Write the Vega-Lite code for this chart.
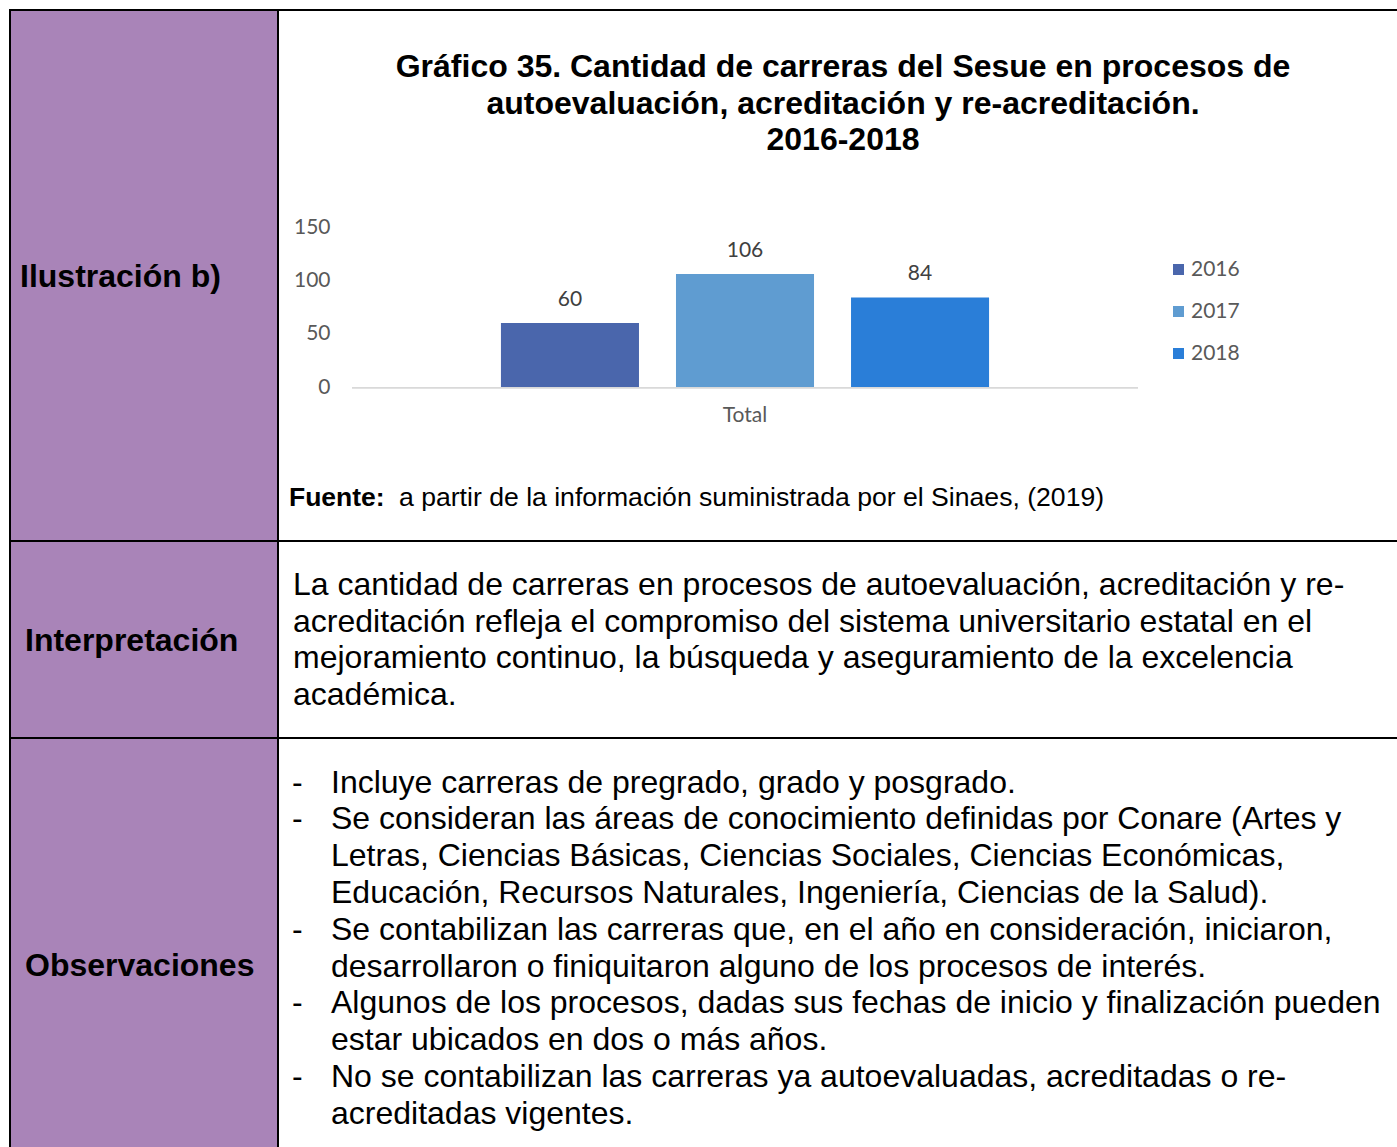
{
  "$schema": "https://vega.github.io/schema/vega-lite/v6.json",
  "padding": {"left": 9, "top": 9, "right": 0, "bottom": 0},
  "background": "white",
  "bounds": "flush",
  "align": "each",
  "spacing": 0,
  "columns": 2,
  "config": {
    "view": {"stroke": "black", "strokeWidth": 2},
    "concat": {"spacing": 0},
    "text": {"font": "Liberation Sans", "color": "black"}
  },
  "concat": [
    {
      "width": 268,
      "height": 531,
      "view": {"fill": "#A984B8", "stroke": "black", "strokeWidth": 2},
      "data": {"values": [{"label": "Ilustración b)"}]},
      "mark": {"type": "text", "align": "left", "baseline": "middle", "dx": -124, "dy": 1, "fontSize": 32, "fontWeight": "bold", "font": "Liberation Sans"},
      "encoding": {"text": {"field": "label", "type": "nominal"}}
    },
    {
      "width": 1130,
      "height": 531,
      "view": {"fill": "white", "stroke": "black", "strokeWidth": 2},
      "layer": [
        {
          "data": {"values": [{"grupo": "Total"}]},
          "mark": {"type": "bar", "color": "#D9D9D9"},
          "encoding": {
            "x": {
              "field": "grupo", "type": "nominal",
              "scale": {"paddingInner": 0, "paddingOuter": 0.2188, "align": 0.2151},
              "axis": {"title": null, "orient": "bottom", "offset": -154, "domain": false, "ticks": false, "labelPadding": 17, "labelFont": "Lato", "labelFontSize": 21, "labelColor": "#595959", "labelAngle": 0}
            },
            "y": {"datum": 0, "type": "quantitative"},
            "y2": {"datum": -1.7}
          }
        },
        {
          "data": {"values": [
            {"grupo": "Total", "anio": "2016", "carreras": 60},
            {"grupo": "Total", "anio": "2017", "carreras": 106},
            {"grupo": "Total", "anio": "2018", "carreras": 84}
          ]},
          "layer": [
            {
              "mark": {"type": "bar"},
              "encoding": {
                "x": {"field": "grupo", "type": "nominal"},
                "xOffset": {"field": "anio", "type": "nominal", "scale": {"paddingInner": 0.2114, "paddingOuter": 0.851}},
                "y": {
                  "field": "carreras", "type": "quantitative",
                  "scale": {"domain": [-144.375, 353.44], "nice": false, "zero": false},
                  "axis": {"title": null, "values": [0, 50, 100, 150], "offset": -60, "domain": false, "ticks": false, "grid": false, "labelPadding": 8, "labelFont": "Lato", "labelFontSize": 21, "labelColor": "#595959"}
                },
                "color": {
                  "field": "anio", "type": "nominal",
                  "scale": {"domain": ["2016", "2017", "2018"], "range": ["#4A66AC", "#5F9CD1", "#2A7ED8"]},
                  "legend": {"title": null, "orient": "none", "legendX": 1158, "legendY": 249, "symbolType": "square", "symbolSize": 121, "symbolStrokeWidth": 0, "labelFont": "Lato", "labelFontSize": 21, "labelColor": "#595959", "labelOffset": 2, "rowPadding": 20, "padding": 0}
                }
              }
            },
            {
              "mark": {"type": "text", "baseline": "alphabetic", "dy": -17, "font": "Lato", "fontSize": 21, "color": "#404040"},
              "encoding": {
                "x": {"field": "grupo", "type": "nominal"},
                "xOffset": {"field": "anio", "type": "nominal"},
                "y": {"field": "carreras", "type": "quantitative"},
                "text": {"field": "carreras", "type": "quantitative"}
              }
            }
          ]
        },
        {
          "data": {"values": [{"titulo": ["Gráfico 35. Cantidad de carreras del Sesue en procesos de", "autoevaluación, acreditación y re-acreditación.", "2016-2018"]}]},
          "mark": {"type": "text", "align": "center", "baseline": "middle", "dy": -208.5, "fontSize": 32, "fontWeight": "bold", "lineHeight": 36.5, "font": "Liberation Sans"},
          "encoding": {"text": {"field": "titulo", "type": "nominal"}}
        },
        {
          "data": {"values": [{"fuente": "Fuente:"}]},
          "mark": {"type": "text", "align": "left", "baseline": "middle", "dx": -554, "dy": 222.5, "fontSize": 26.5, "fontWeight": "bold", "font": "Liberation Sans"},
          "encoding": {"text": {"field": "fuente", "type": "nominal"}}
        },
        {
          "data": {"values": [{"nota": "a partir de la información suministrada por el Sinaes, (2019)"}]},
          "mark": {"type": "text", "align": "left", "baseline": "middle", "dx": -444, "dy": 222.5, "fontSize": 26.6, "font": "Liberation Sans"},
          "encoding": {"text": {"field": "nota", "type": "nominal"}}
        }
      ]
    },
    {
      "width": 268,
      "height": 197,
      "view": {"fill": "#A984B8", "stroke": "black", "strokeWidth": 2},
      "data": {"values": [{"label": "Interpretación"}]},
      "mark": {"type": "text", "align": "left", "baseline": "middle", "dx": -119, "dy": 1, "fontSize": 32, "fontWeight": "bold", "font": "Liberation Sans"},
      "encoding": {"text": {"field": "label", "type": "nominal"}}
    },
    {
      "width": 1130,
      "height": 197,
      "view": {"fill": "white", "stroke": "black", "strokeWidth": 2},
      "data": {"values": [{"parrafo": [
        "La cantidad de carreras en procesos de autoevaluación, acreditación y re-",
        "acreditación refleja el compromiso del sistema universitario estatal en el",
        "mejoramiento continuo, la búsqueda y aseguramiento de la excelencia",
        "académica."
      ]}]},
      "mark": {"type": "text", "align": "left", "baseline": "middle", "dx": -550, "dy": -54.5, "fontSize": 32, "lineHeight": 36.7, "font": "Liberation Sans"},
      "encoding": {"text": {"field": "parrafo", "type": "nominal"}}
    },
    {
      "width": 268,
      "height": 454,
      "view": {"fill": "#A984B8", "stroke": "black", "strokeWidth": 2},
      "data": {"values": [{"label": "Observaciones"}]},
      "mark": {"type": "text", "align": "left", "baseline": "middle", "dx": -119, "dy": 1, "fontSize": 32, "fontWeight": "bold", "font": "Liberation Sans"},
      "encoding": {"text": {"field": "label", "type": "nominal"}}
    },
    {
      "width": 1130,
      "height": 454,
      "view": {"fill": "white", "stroke": "black", "strokeWidth": 2},
      "layer": [
        {
          "data": {"values": [{"guion": "-"}]},
          "mark": {"type": "text", "align": "left", "baseline": "middle", "dx": -551, "dy": -182.5, "fontSize": 32, "font": "Liberation Sans"},
          "encoding": {"text": {"field": "guion", "type": "nominal"}}
        },
        {
          "data": {"values": [{"guion": "-"}]},
          "mark": {"type": "text", "align": "left", "baseline": "middle", "dx": -551, "dy": -145.7, "fontSize": 32, "font": "Liberation Sans"},
          "encoding": {"text": {"field": "guion", "type": "nominal"}}
        },
        {
          "data": {"values": [{"guion": "-"}]},
          "mark": {"type": "text", "align": "left", "baseline": "middle", "dx": -551, "dy": -35.3, "fontSize": 32, "font": "Liberation Sans"},
          "encoding": {"text": {"field": "guion", "type": "nominal"}}
        },
        {
          "data": {"values": [{"guion": "-"}]},
          "mark": {"type": "text", "align": "left", "baseline": "middle", "dx": -551, "dy": 38.3, "fontSize": 32, "font": "Liberation Sans"},
          "encoding": {"text": {"field": "guion", "type": "nominal"}}
        },
        {
          "data": {"values": [{"guion": "-"}]},
          "mark": {"type": "text", "align": "left", "baseline": "middle", "dx": -551, "dy": 111.9, "fontSize": 32, "font": "Liberation Sans"},
          "encoding": {"text": {"field": "guion", "type": "nominal"}}
        },
        {
          "data": {"values": [{"lineas": [
            "Incluye carreras de pregrado, grado y posgrado.",
            "Se consideran las áreas de conocimiento definidas por Conare (Artes y",
            "Letras, Ciencias Básicas, Ciencias Sociales, Ciencias Económicas,",
            "Educación, Recursos Naturales, Ingeniería, Ciencias de la Salud).",
            "Se contabilizan las carreras que, en el año en consideración, iniciaron,",
            "desarrollaron o finiquitaron alguno de los procesos de interés.",
            "Algunos de los procesos, dadas sus fechas de inicio y finalización pueden",
            "estar ubicados en dos o más años.",
            "No se contabilizan las carreras ya autoevaluadas, acreditadas o re-",
            "acreditadas vigentes."
          ]}]},
          "mark": {"type": "text", "align": "left", "baseline": "middle", "dx": -512, "dy": -182.5, "fontSize": 32, "lineHeight": 36.8, "font": "Liberation Sans"},
          "encoding": {"text": {"field": "lineas", "type": "nominal"}}
        }
      ]
    }
  ]
}
